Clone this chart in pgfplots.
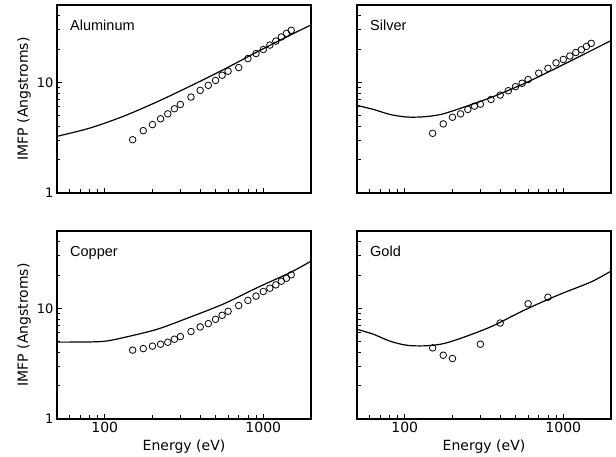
\documentclass[border=0pt]{standalone}
\usepackage{pgfplots}
\pgfplotsset{compat=1.18}
\usepackage{fontspec}
\setmainfont{DejaVu Sans}
\newfontfamily\titlefont{Liberation Sans}

% shared look of the four log-log panels
\pgfplotsset{
  scale only axis, width=254pt, height=188pt,
  xmin=50, xmax=2000, ymin=1, ymax=50,
  xtick={100,1000}, ytick={1,10},
  minor xtick={60,70,80,90,200,300,400,500,600,700,800,900,2000},
  minor ytick={2,3,4,5,6,7,8,9,20,30,40},
  tick pos=left, tick align=inside,
  major tick length=5pt, minor tick length=3.5pt,
  tick style={black, line width=0.8pt},
  axis line style={line width=1.1pt},
  xticklabel style={font=\fontsize{14}{16}\selectfont},
  yticklabel style={font=\fontsize{13}{15}\selectfont},
  ylabel style={font=\fontsize{14}{16}\selectfont, at={([xshift=-33pt]axis description cs:0,0.5)}, anchor=center},
  xlabel style={font=\fontsize{14}{16}\selectfont, at={([yshift=-20.5pt]axis description cs:0.5,0)}, anchor=north, inner sep=0pt},
}

\begin{document}
\begin{tikzpicture}

% Aluminum
\begin{loglogaxis}[anchor=south west, at={(57pt,264pt)}, xticklabels={}, yticklabels={1,10}, ylabel={IMFP (Angstroms)}]
\addplot[black, line width=1.2pt, smooth, no marks] coordinates {
  (50,3.25) (81,3.87) (131.5,4.94) (214,6.67) (347,9.26)
  (565,13.1) (918,18.9) (1493,26.9) (2000,33.0)};
\addplot[black, only marks, mark=o, mark size=3.3pt, mark options={line width=0.8pt}] coordinates {
  (150,3.03) (175,3.66) (200,4.15) (225,4.68) (250,5.19) (275,5.77)
  (300,6.31) (350,7.36) (400,8.46) (450,9.39) (500,10.4) (550,11.6)
  (600,12.6) (700,13.6) (800,16.4) (900,18.2) (1000,19.8) (1100,21.7)
  (1200,23.6) (1300,25.7) (1400,27.7) (1500,29.5)};
\node[anchor=north west, inner sep=0pt, xshift=13pt, yshift=-15pt, font=\titlefont\fontsize{14.5}{16}\selectfont] at (rel axis cs:0,1) {Aluminum};
\end{loglogaxis}

% Silver
\begin{loglogaxis}[anchor=south west, at={(357pt,264pt)}, xticklabels={}, yticklabels={}]
\addplot[black, line width=1.2pt, smooth, no marks] coordinates {
  (50,6.18) (63.5,5.69) (81,5.12) (103,4.86) (131.5,4.88) (168,5.12)
  (214,5.69) (347,7.26) (565,9.73) (918,13.6) (1493,19.3) (2000,23.8)};
\addplot[black, only marks, mark=o, mark size=3.3pt, mark options={line width=0.8pt}] coordinates {
  (150,3.46) (175,4.21) (200,4.84) (225,5.19) (250,5.69) (275,6.09)
  (300,6.35) (350,7.0) (400,7.67) (450,8.4) (500,9.14) (550,9.8)
  (600,10.6) (700,12.1) (800,13.4) (900,15.0) (1000,16.1) (1100,17.3)
  (1200,18.6) (1300,19.7) (1400,21.1) (1500,22.5)};
\node[anchor=north west, inner sep=0pt, xshift=13pt, yshift=-15pt, font=\titlefont\fontsize{14.5}{16}\selectfont] at (rel axis cs:0,1) {Silver};
\end{loglogaxis}

% Copper
\begin{loglogaxis}[anchor=south west, at={(57pt,38pt)}, xticklabels={100,1000}, yticklabels={1,10}, ylabel={IMFP (Angstroms)}, xlabel={Energy (eV)}]
\addplot[black, line width=1.2pt, smooth, no marks] coordinates {
  (50,4.95) (81,4.97) (103,5.07) (131.5,5.44) (214,6.47) (347,8.35)
  (565,11.0) (918,15.4) (1493,21.2) (2000,26.7)};
\addplot[black, only marks, mark=o, mark size=3.3pt, mark options={line width=0.8pt}] coordinates {
  (150,4.19) (175,4.33) (200,4.55) (225,4.74) (250,4.94) (275,5.26)
  (300,5.56) (350,6.17) (400,6.79) (450,7.27) (500,7.96) (550,8.65)
  (600,9.4) (700,10.6) (800,11.8) (900,12.9) (1000,14.2) (1100,15.2)
  (1200,16.3) (1300,17.6) (1400,18.7) (1500,20.1)};
\node[anchor=north west, inner sep=0pt, xshift=13pt, yshift=-15pt, font=\titlefont\fontsize{14.5}{16}\selectfont] at (rel axis cs:0,1) {Copper};
\end{loglogaxis}

% Gold
\begin{loglogaxis}[anchor=south west, at={(357pt,38pt)}, xticklabels={100,1000}, yticklabels={}, xlabel={Energy (eV)}]
\addplot[black, line width=1.2pt, smooth, no marks] coordinates {
  (50,6.47) (63.5,5.83) (81,5.04) (103,4.64) (131.5,4.58) (168,4.74)
  (214,5.22) (347,6.79) (565,9.6) (918,13.1) (1493,17.3) (2000,21.7)};
\addplot[black, only marks, mark=o, mark size=3.3pt, mark options={line width=0.8pt}] coordinates {
  (150,4.39) (175,3.77) (200,3.52) (300,4.74) (400,7.37) (600,11.0) (800,12.6)};
\node[anchor=north west, inner sep=0pt, xshift=13pt, yshift=-15pt, font=\titlefont\fontsize{14.5}{16}\selectfont] at (rel axis cs:0,1) {Gold};
\end{loglogaxis}

\pgfresetboundingbox
\path[use as bounding box] (0pt,0pt) rectangle (616pt,457pt);
\end{tikzpicture}
\end{document}
